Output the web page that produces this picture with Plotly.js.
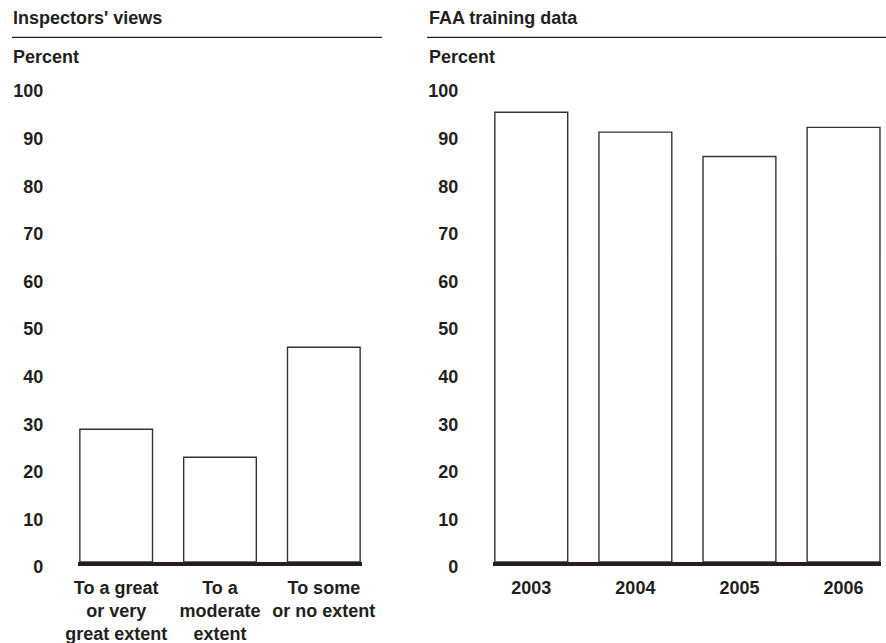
<!DOCTYPE html>
<html>
<head>
<meta charset="utf-8">
<script src="https://cdn.plot.ly/plotly-3.0.1.min.js"></script>
<style>html,body{margin:0;padding:0;background:#fff;}#chart{width:886px;height:643px;}</style>
</head>
<body>
<div id="chart"></div>
<script>
// Data
var inspectorCategories = ["To a great<br>or very<br>great extent", "To a<br>moderate<br>extent", "To some<br>or no extent"];
var inspectorValues = [27.9, 22.0, 45.1];
var faaYears = ["2003", "2004", "2005", "2006"];
var faaValues = [94.5, 90.3, 85.2, 91.3];
var yTickValues = [0, 10, 20, 30, 40, 50, 60, 70, 80, 90, 100];
var yTickLabels = ["0", "10", "20", "30", "40", "50", "60", "70", "80", "90", "100"];
var panelTitles = ["Inspectors' views", "FAA training data"];
var axisLabel = "Percent";

var W = 886, H = 643;
var FONT = "Liberation Sans, Arial, Helvetica, sans-serif";
var TXT = "#231f20";

function px(x){ return x / W; }
function py(y){ return 1 - y / H; }

var barStyle = {color: "#ffffff", line: {color: "#333333", width: 1.4}};

var traces = [
  {type: "bar", x: inspectorCategories, y: inspectorValues, xaxis: "x", yaxis: "y",
   marker: barStyle, hoverinfo: "x+y", showlegend: false},
  {type: "bar", x: faaYears, y: faaValues, xaxis: "x2", yaxis: "y2",
   marker: barStyle, hoverinfo: "x+y", showlegend: false}
];

var yDomain = [py(562), py(86)];
function yAxis(anchor){
  return {
    domain: yDomain, range: [0, 100], anchor: anchor,
    tickmode: "array", tickvals: yTickValues, ticktext: yTickLabels,
    showgrid: false, showline: false, ticks: "", zeroline: false,
    ticklabelstandoff: 34, ticklabelshift: 5,
    tickfont: {family: FONT, size: 18, color: TXT, weight: "bold"},
    fixedrange: true
  };
}
function xAxis(domain, range, anchor){
  return {
    domain: domain, range: range, anchor: anchor, type: "category",
    showgrid: false, showline: true, linecolor: "#231f20", linewidth: 4,
    layer: "above traces",
    ticks: "", zeroline: false, ticklabelstandoff: 6,
    tickfont: {family: FONT, size: 18, color: TXT, weight: "bold"},
    tickangle: 0, fixedrange: true
  };
}

var layout = {
  width: W, height: H,
  margin: {l: 0, r: 0, t: 0, b: 0, pad: 0},
  paper_bgcolor: "#ffffff", plot_bgcolor: "rgba(0,0,0,0)",
  font: {family: FONT, size: 18, color: TXT, weight: "bold"},
  bargap: 0.3,
  showlegend: false,
  xaxis: xAxis([px(78.3), px(361.7)], [-0.365, 2.365], "y"),
  yaxis: yAxis("x"),
  xaxis2: xAxis([px(493.3), px(881)], [-0.365, 3.36], "y2"),
  yaxis2: yAxis("x2"),
  annotations: [
    {text: panelTitles[0], xref: "paper", yref: "paper", x: px(11), y: py(18.3), xanchor: "left", yanchor: "middle", showarrow: false, font: {family: FONT, size: 18, color: TXT, weight: "bold"}},
    {text: panelTitles[1], xref: "paper", yref: "paper", x: px(427), y: py(18.3), xanchor: "left", yanchor: "middle", showarrow: false, font: {family: FONT, size: 18, color: TXT, weight: "bold"}},
    {text: axisLabel, xref: "paper", yref: "paper", x: px(11), y: py(56.7), xanchor: "left", yanchor: "middle", showarrow: false, font: {family: FONT, size: 18, color: TXT, weight: "bold"}},
    {text: axisLabel, xref: "paper", yref: "paper", x: px(427), y: py(56.7), xanchor: "left", yanchor: "middle", showarrow: false, font: {family: FONT, size: 18, color: TXT, weight: "bold"}}
  ],
  shapes: [
    {type: "line", xref: "paper", yref: "paper", x0: px(12), x1: px(382), y0: py(37.3), y1: py(37.3), line: {color: "#231f20", width: 1.3}},
    {type: "line", xref: "paper", yref: "paper", x0: px(427), x1: px(886), y0: py(37.3), y1: py(37.3), line: {color: "#231f20", width: 1.3}}
  ]
};

Plotly.newPlot("chart", traces, layout, {displayModeBar: false, staticPlot: true});
</script>
</body>
</html>
